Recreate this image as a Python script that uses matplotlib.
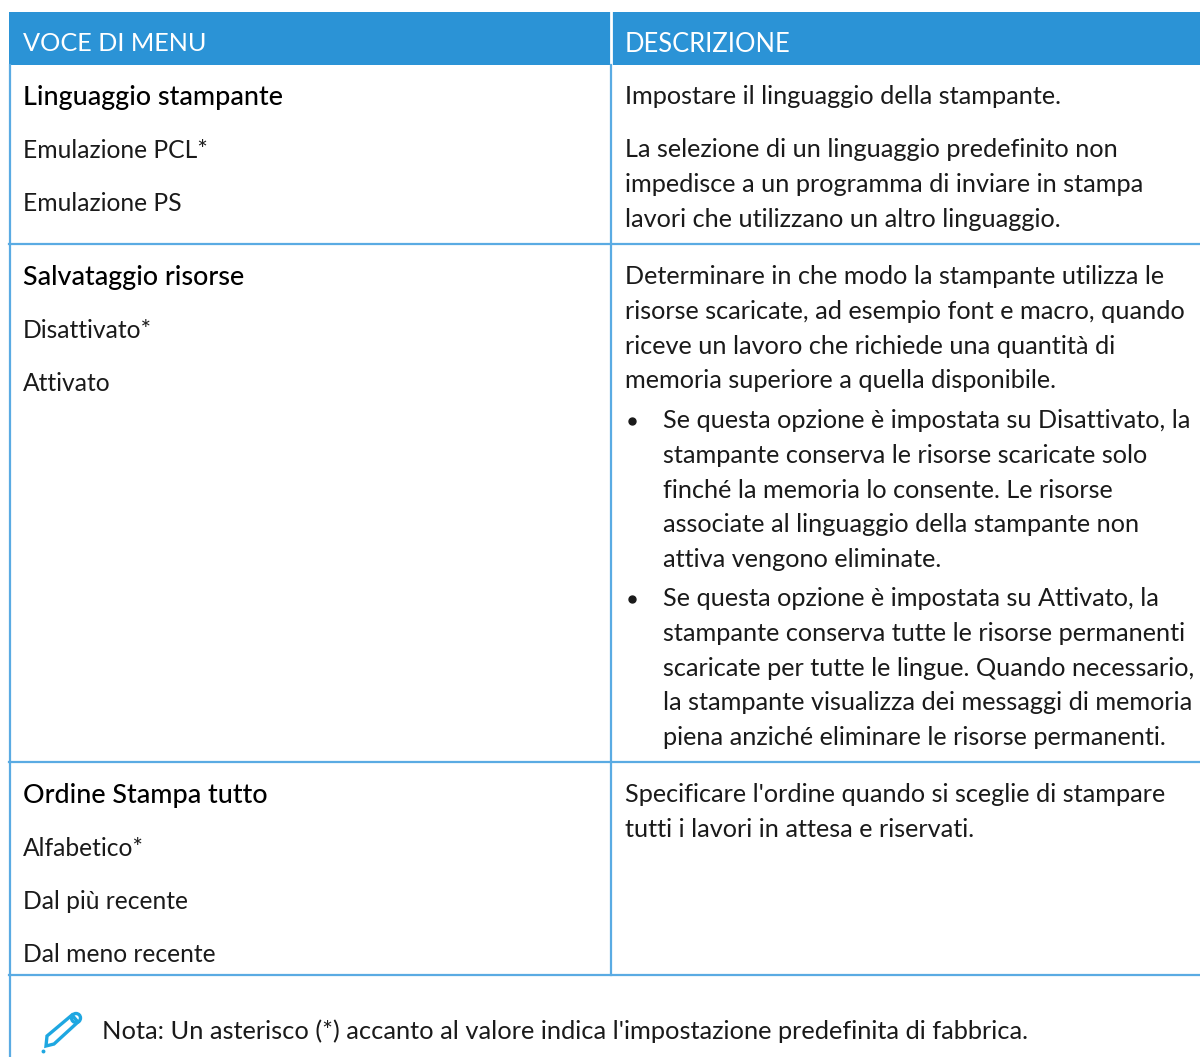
import matplotlib
matplotlib.use("Agg")
import matplotlib.pyplot as plt
from matplotlib.patches import Rectangle, Polygon, Circle

plt.rcParams['font.family'] = ['Lato', 'DejaVu Sans']

headers = ["VOCE DI MENU", "DESCRIZIONE"]

row_titles = ["Linguaggio stampante", "Salvataggio risorse", "Ordine Stampa tutto"]
row_options = [
    ["Emulazione PCL*", "Emulazione PS"],
    ["Disattivato*", "Attivato"],
    ["Alfabetico*", "Dal più recente", "Dal meno recente"],
]
row_first_lines = [
    ["Impostare il linguaggio della stampante."],
    ["Determinare in che modo la stampante utilizza le",
     "risorse scaricate, ad esempio font e macro, quando",
     "riceve un lavoro che richiede una quantità di",
     "memoria superiore a quella disponibile."],
    ["Specificare l'ordine quando si sceglie di stampare",
     "tutti i lavori in attesa e riservati."],
]
para_2 = ["La selezione di un linguaggio predefinito non",
          "impedisce a un programma di inviare in stampa",
          "lavori che utilizzano un altro linguaggio."]
bullet_1 = ["Se questa opzione è impostata su Disattivato, la",
            "stampante conserva le risorse scaricate solo",
            "finché la memoria lo consente. Le risorse",
            "associate al linguaggio della stampante non",
            "attiva vengono eliminate."]
bullet_2 = ["Se questa opzione è impostata su Attivato, la",
            "stampante conserva tutte le risorse permanenti",
            "scaricate per tutte le lingue. Quando necessario,",
            "la stampante visualizza dei messaggi di memoria",
            "piena anziché eliminare le risorse permanenti."]
note = "Nota: Un asterisco (*) accanto al valore indica l'impostazione predefinita di fabbrica."

HEADER_BLUE = "#2b93d6"
LINE_BLUE = "#5aabe3"
TEXT = "#1a1a1a"
FS = 18.2
LINE = 34.6

fig = plt.figure(figsize=(12, 10.57), dpi=100)
ax = fig.add_axes([0, 0, 1, 1])
ax.set_xlim(0, 1200)
ax.set_ylim(1057, 0)
ax.axis("off")


def put_lines(x, y, lines, step=LINE, size=FS):
    for i, line in enumerate(lines):
        ax.text(x, y + i * step, line, fontsize=size, color=TEXT, va="baseline")


ax.add_patch(Rectangle((9, 12), 1191, 53, color=HEADER_BLUE, lw=0))
ax.plot([611, 611], [12, 65], color="white", lw=2)
ax.text(23, 51, headers[0], fontsize=18.2, color="white", va="baseline")
ax.text(625, 51.6, headers[1], fontsize=18.4, color="white", va="baseline")

ax.plot([9.5, 9.5], [65, 1057], color=LINE_BLUE, lw=1.6)
ax.plot([611, 611], [65, 975], color=LINE_BLUE, lw=1.6)
for y in [244, 762, 975]:
    ax.plot([9, 1200], [y, y], color=LINE_BLUE, lw=1.6)

# left column
for title, opts, y in zip(row_titles, row_options, [104.4, 284.4, 802.4]):
    ax.text(23, y + 0.8, title, fontsize=19.4, color="#000000", va="baseline",
            fontweight="medium")
    put_lines(23, y + 53.3, opts, step=53.2, size=17.7)

# right column
put_lines(625, 104.4, row_first_lines[0])
put_lines(625, 157.4, para_2)
put_lines(625, 284.4, row_first_lines[1])
put_lines(625, 802.4, row_first_lines[2])

put_lines(663, 428.4, bullet_1)
put_lines(663, 606.4, bullet_2)
for y in [421, 599]:
    ax.plot([632], [y], marker="o", ms=5, color=TEXT)

# pencil icon
ax.add_patch(Polygon([(47, 1036), (72, 1015), (78, 1022), (54, 1044), (46, 1046)],
                     closed=True, fill=False, ec="#1ea7e1", lw=2.4))
ax.add_patch(Circle((76, 1018), 4.5, fill=False, ec="#1ea7e1", lw=2.4))
ax.plot([43], [1051], marker="o", ms=1.8, color="#1ea7e1")

ax.text(102, 1039.4, note, fontsize=18.3, color=TEXT, va="baseline")

fig.savefig("out.png", dpi=100)
